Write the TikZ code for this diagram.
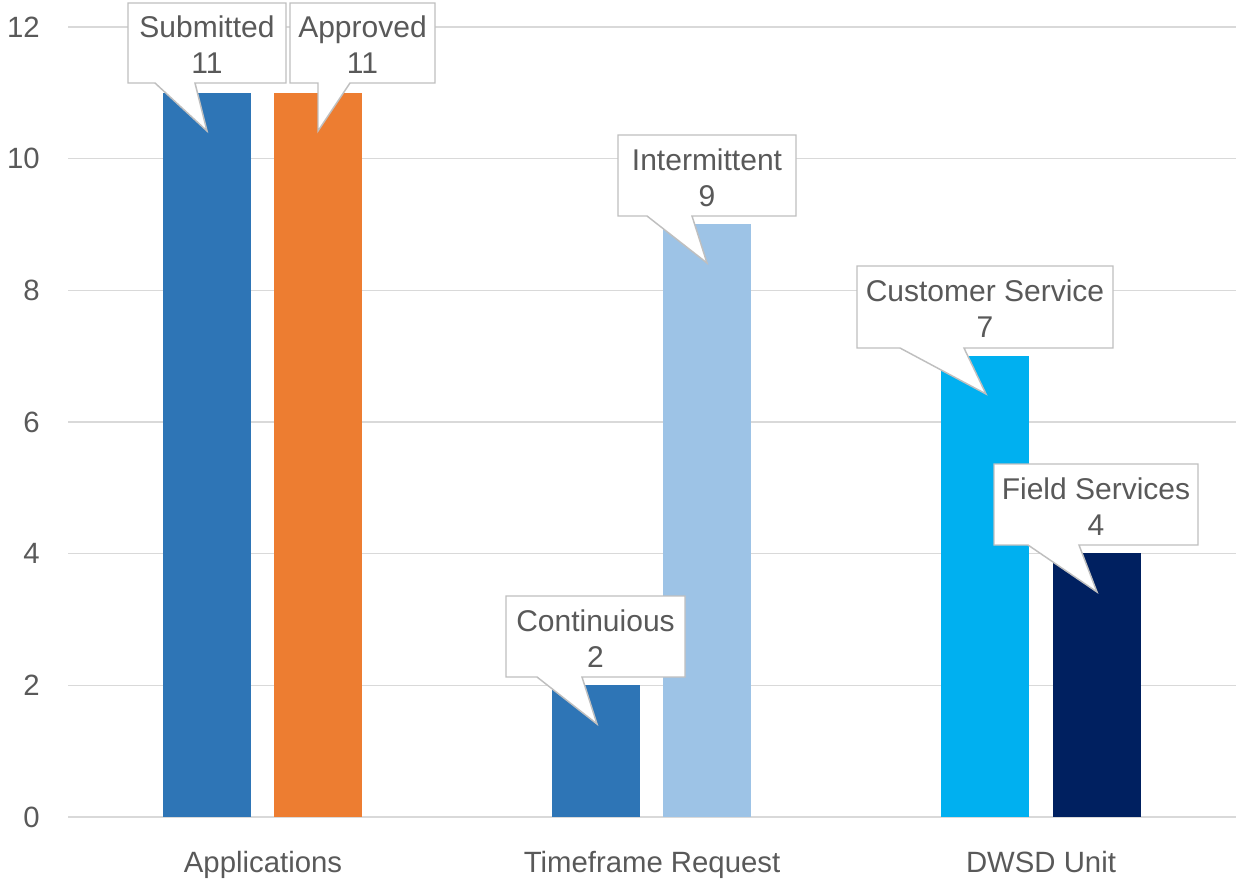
\documentclass[tikz,border=0pt]{standalone}
\usepackage{fontspec}
\setmainfont{Liberation Sans}
\definecolor{gridgray}{HTML}{D9D9D9}
\definecolor{textgray}{HTML}{595959}
\definecolor{calloutline}{HTML}{BFBFBF}
\definecolor{barblue}{HTML}{2E75B6}
\definecolor{barorange}{HTML}{ED7D31}
\definecolor{barlight}{HTML}{9DC3E6}
\definecolor{barcyan}{HTML}{00B0F0}
\definecolor{barnavy}{HTML}{002060}

\begin{document}
\begin{tikzpicture}[x=0.75pt,y=-0.75pt,
  gridline/.style={gridgray, line width=1.1pt},
  ticklabel/.style={text=textgray, anchor=east, inner sep=0pt, font=\fontsize{22}{26}\selectfont},
  catlabel/.style={text=textgray, anchor=base, inner sep=0pt, font=\fontsize{22}{26}\selectfont},
  callout/.style={fill=white, draw=calloutline, line width=1.1pt, line join=miter},
  callouttext/.style={text=textgray, align=center, inner sep=0pt, font=\fontsize{22.5}{27}\selectfont}]
\useasboundingbox (0,0) rectangle (1236,886);

% Gridlines and y axis
\foreach \v in {0,2,...,12} {
  \pgfmathsetmacro{\yy}{817-65.83*\v}
  \draw[gridline] (68,\yy) -- (1236,\yy);
  \node[ticklabel] (tick\v) at (40,\yy) {\v};
}

% Bars
\fill[barblue] (163,93) rectangle (251,817);
\fill[barorange] (274,93) rectangle (362,817);
\fill[barblue] (552,685) rectangle (640,817);
\fill[barlight] (663,224) rectangle (751,817);
\fill[barcyan] (941,356) rectangle (1029,817);
\fill[barnavy] (1053,553) rectangle (1141,817);

% Callouts
\draw[callout] (128,3) -- (286,3) -- (286,83) -- (195,83) -- (207,131) -- (155,83) -- (128,83) -- cycle;
\node[callouttext] (submitted) at (207,45) {Submitted\\11};
\draw[callout] (290,3) -- (435,3) -- (435,83) -- (350,83) -- (318,131) -- (318,83) -- (290,83) -- cycle;
\node[callouttext] (approved) at (362.5,45) {Approved\\11};
\draw[callout] (506,596) -- (685,596) -- (685,677) -- (582,677) -- (597,724) -- (537,677) -- (506,677) -- cycle;
\node[callouttext] (continuous) at (595.5,638.5) {Continuious\\2};
\draw[callout] (618,135) -- (796,135) -- (796,216) -- (692,216) -- (707,263) -- (647,216) -- (618,216) -- cycle;
\node[callouttext] (intermittent) at (707,177.5) {Intermittent\\9};
\draw[callout] (857,266) -- (1113,266) -- (1113,348) -- (964,348) -- (986,394) -- (900,348) -- (857,348) -- cycle;
\node[callouttext] (customer) at (985,309) {Customer Service\\7};
\draw[callout] (994,464) -- (1198,464) -- (1198,545) -- (1079,545) -- (1097,592) -- (1028,545) -- (994,545) -- cycle;
\node[callouttext] (field) at (1096,506.5) {Field Services\\4};

% Categories
\node[catlabel] (applications) at (263,872) {Applications};
\node[catlabel] (timeframe) at (652,872) {Timeframe Request};
\node[catlabel] (dwsd) at (1041,872) {DWSD Unit};
\end{tikzpicture}
\end{document}
